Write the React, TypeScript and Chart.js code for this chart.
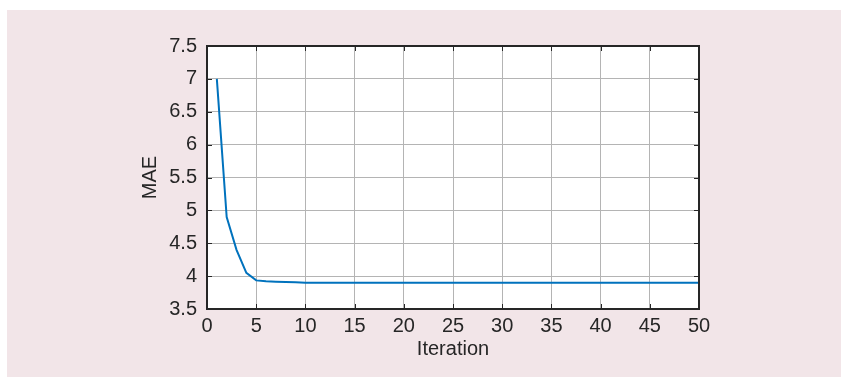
import React, { useEffect, useRef } from "react";
import { Chart, registerables } from "chart.js";

Chart.register(...registerables);

const iterations = [
  1, 2, 3, 4, 5, 6, 7, 8, 9, 10,
  11, 12, 13, 14, 15, 16, 17, 18, 19, 20,
  21, 22, 23, 24, 25, 26, 27, 28, 29, 30,
  31, 32, 33, 34, 35, 36, 37, 38, 39, 40,
  41, 42, 43, 44, 45, 46, 47, 48, 49, 50,
];
const maeValues = [
  7.0, 4.9, 4.4, 4.05, 3.935, 3.922, 3.915, 3.91, 3.905, 3.9,
  3.9, 3.9, 3.9, 3.9, 3.9, 3.9, 3.9, 3.9, 3.9, 3.9,
  3.9, 3.9, 3.9, 3.9, 3.9, 3.9, 3.9, 3.9, 3.9, 3.9,
  3.9, 3.9, 3.9, 3.9, 3.9, 3.9, 3.9, 3.9, 3.9, 3.9,
  3.9, 3.9, 3.9, 3.9, 3.9, 3.9, 3.9, 3.9, 3.9, 3.9,
];
const xTicks = [0, 5, 10, 15, 20, 25, 30, 35, 40, 45, 50];
const yTicks = [3.5, 4, 4.5, 5, 5.5, 6, 6.5, 7, 7.5];
const yTickLabels = ["3.5", "4", "4.5", "5", "5.5", "6", "6.5", "7", "7.5"];
const xTitle = "Iteration";
const yTitle = "MAE";

const INK = "#262626";
const FONT = "'Liberation Sans', Arial, Helvetica, sans-serif";

const framePlugin = {
  id: "frame",
  afterDraw(chart: any) {
    const { ctx, chartArea: a, scales } = chart;
    const tl = 5;
    ctx.save();
    ctx.strokeStyle = INK;
    ctx.lineWidth = 1;
    ctx.beginPath();
    for (const v of xTicks) {
      const x = Math.round(scales.x.getPixelForValue(v)) + 0.5;
      ctx.moveTo(x, a.bottom);
      ctx.lineTo(x, a.bottom - tl);
      ctx.moveTo(x, a.top);
      ctx.lineTo(x, a.top + tl);
    }
    for (const v of yTicks) {
      const y = Math.round(scales.y.getPixelForValue(v)) + 0.5;
      ctx.moveTo(a.left, y);
      ctx.lineTo(a.left + tl, y);
      ctx.moveTo(a.right, y);
      ctx.lineTo(a.right - tl, y);
    }
    ctx.stroke();
    ctx.lineWidth = 2;
    ctx.strokeRect(a.left, a.top, a.right - a.left, a.bottom - a.top);
    ctx.restore();
  },
};

const whiteArea = {
  id: "whiteArea",
  beforeDraw(chart: any) {
    const { ctx, chartArea: a } = chart;
    ctx.save();
    ctx.fillStyle = "#ffffff";
    ctx.fillRect(a.left, a.top, a.right - a.left, a.bottom - a.top);
    ctx.restore();
  },
};

export default function App() {
  const ref = useRef<HTMLCanvasElement | null>(null);
  useEffect(() => {
    if (!ref.current) return;
    const chart = new Chart(ref.current, {
      type: "line",
      data: {
        datasets: [
          {
            data: iterations.map((it, i) => ({ x: it, y: maeValues[i] })),
            borderColor: "#0072BD",
            borderWidth: 2,
            pointRadius: 0,
            tension: 0,
            fill: false,
          },
        ],
      },
      options: {
        animation: false,
        responsive: false,
        maintainAspectRatio: false,
        layout: { padding: { left: 131, right: 142, top: 36, bottom: 0 } },
        plugins: { legend: { display: false }, tooltip: { enabled: false } },
        scales: {
          x: {
            type: "linear",
            min: 0,
            max: 50,
            afterBuildTicks: (s: any) => {
              s.ticks = xTicks.map((v) => ({ value: v }));
            },
            afterFit: (s: any) => {
              s.height = 68;
            },
            grid: { color: "#b4b4b4", lineWidth: 1, drawTicks: false },
            border: { display: false },
            ticks: {
              color: INK,
              font: { family: FONT, size: 20 },
              padding: 5,
              maxRotation: 0,
              autoSkip: false,
            },
            title: {
              display: true,
              text: xTitle,
              color: INK,
              font: { family: FONT, size: 20 },
              padding: { top: 0, bottom: 16 },
            },
          },
          y: {
            type: "linear",
            min: 3.5,
            max: 7.5,
            afterBuildTicks: (s: any) => {
              s.ticks = yTicks.map((v) => ({ value: v }));
            },
            afterFit: (s: any) => {
              s.width = 69;
            },
            grid: { color: "#b4b4b4", lineWidth: 1, drawTicks: false },
            border: { display: false },
            ticks: {
              color: INK,
              font: { family: FONT, size: 20 },
              padding: 10,
              autoSkip: false,
              callback: (value: any) => {
                const i = yTicks.indexOf(Number(value));
                return i >= 0 ? yTickLabels[i] : String(value);
              },
            },
            title: {
              display: true,
              text: yTitle,
              color: INK,
              font: { family: FONT, size: 20 },
              padding: { top: 0, bottom: 0 },
            },
          },
        },
      },
      plugins: [whiteArea, framePlugin],
    } as any);
    return () => chart.destroy();
  }, []);

  return (
    <div
      style={{
        position: "absolute",
        left: 7,
        top: 10,
        width: 834,
        height: 367,
        background: "#f2e5e8",
      }}
    >
      <canvas ref={ref} width={834} height={367} style={{ display: "block" }} />
    </div>
  );
}
